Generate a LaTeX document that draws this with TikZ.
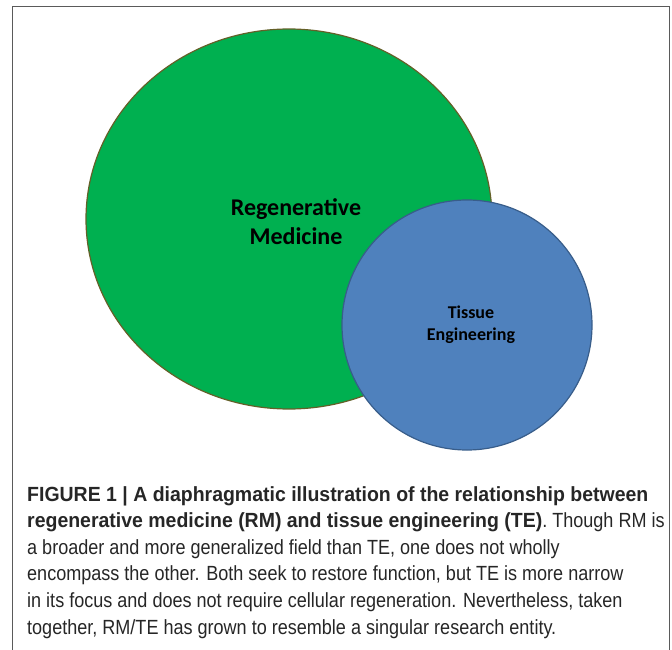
\documentclass[tikz,border=0pt]{standalone}
\usepackage{fontspec}
\setmainfont{Carlito}
\newfontfamily\capfont[FakeStretch=0.88, BoldFeatures={FakeStretch=0.95}]{Liberation Sans}
\definecolor{rmgreen}{RGB}{0,176,80}
\definecolor{rmedge}{RGB}{100,96,40}
\definecolor{teblue}{RGB}{79,129,189}
\definecolor{teedge}{RGB}{56,93,138}
\definecolor{framegray}{RGB}{90,90,90}
\begin{document}
\begin{tikzpicture}[x=1pt, y=-1pt]
        \useasboundingbox (0,0) rectangle (672,650);

        % Frame (open at the bottom)
        \draw[framegray, line width=1pt] (12,650) -- (12,7) -- (669,7) -- (669,650);

        % Green ellipse: regenerative medicine
        \draw[fill=rmgreen, draw=rmedge, line width=1.2pt]
            (289,219) ellipse [x radius=203pt, y radius=190pt];
        \node[font=\bfseries\fontsize{24}{29}\selectfont, align=center] (rm) at (296,222)
            {Regenerative\\Medicine};

        % Blue circle: tissue engineering
        \draw[fill=teblue, draw=teedge, line width=1.2pt]
            (467,325) circle [radius=125pt];
        \node[font=\bfseries\fontsize{18}{22}\selectfont, align=center] (te) at (471,325)
            {Tissue\\Engineering};

        % Caption
        \node[anchor=north west, inner sep=0pt, align=left,
              font=\capfont\fontsize{20.5}{26.6}\selectfont, text=black!85] (caption) at (27,486)
            {\textbf{FIGURE 1 | A diaphragmatic illustration of the relationship between}\\
             \textbf{regenerative medicine (RM) and tissue engineering (TE)}. Though RM is\\
             a broader and more generalized field than TE, one does not wholly\\
             encompass the other. Both seek to restore function, but TE is more narrow\\
             in its focus and does not require cellular regeneration. Nevertheless, taken\\
             together, RM/TE has grown to resemble a singular research entity.};

    \end{tikzpicture}
\end{document}
